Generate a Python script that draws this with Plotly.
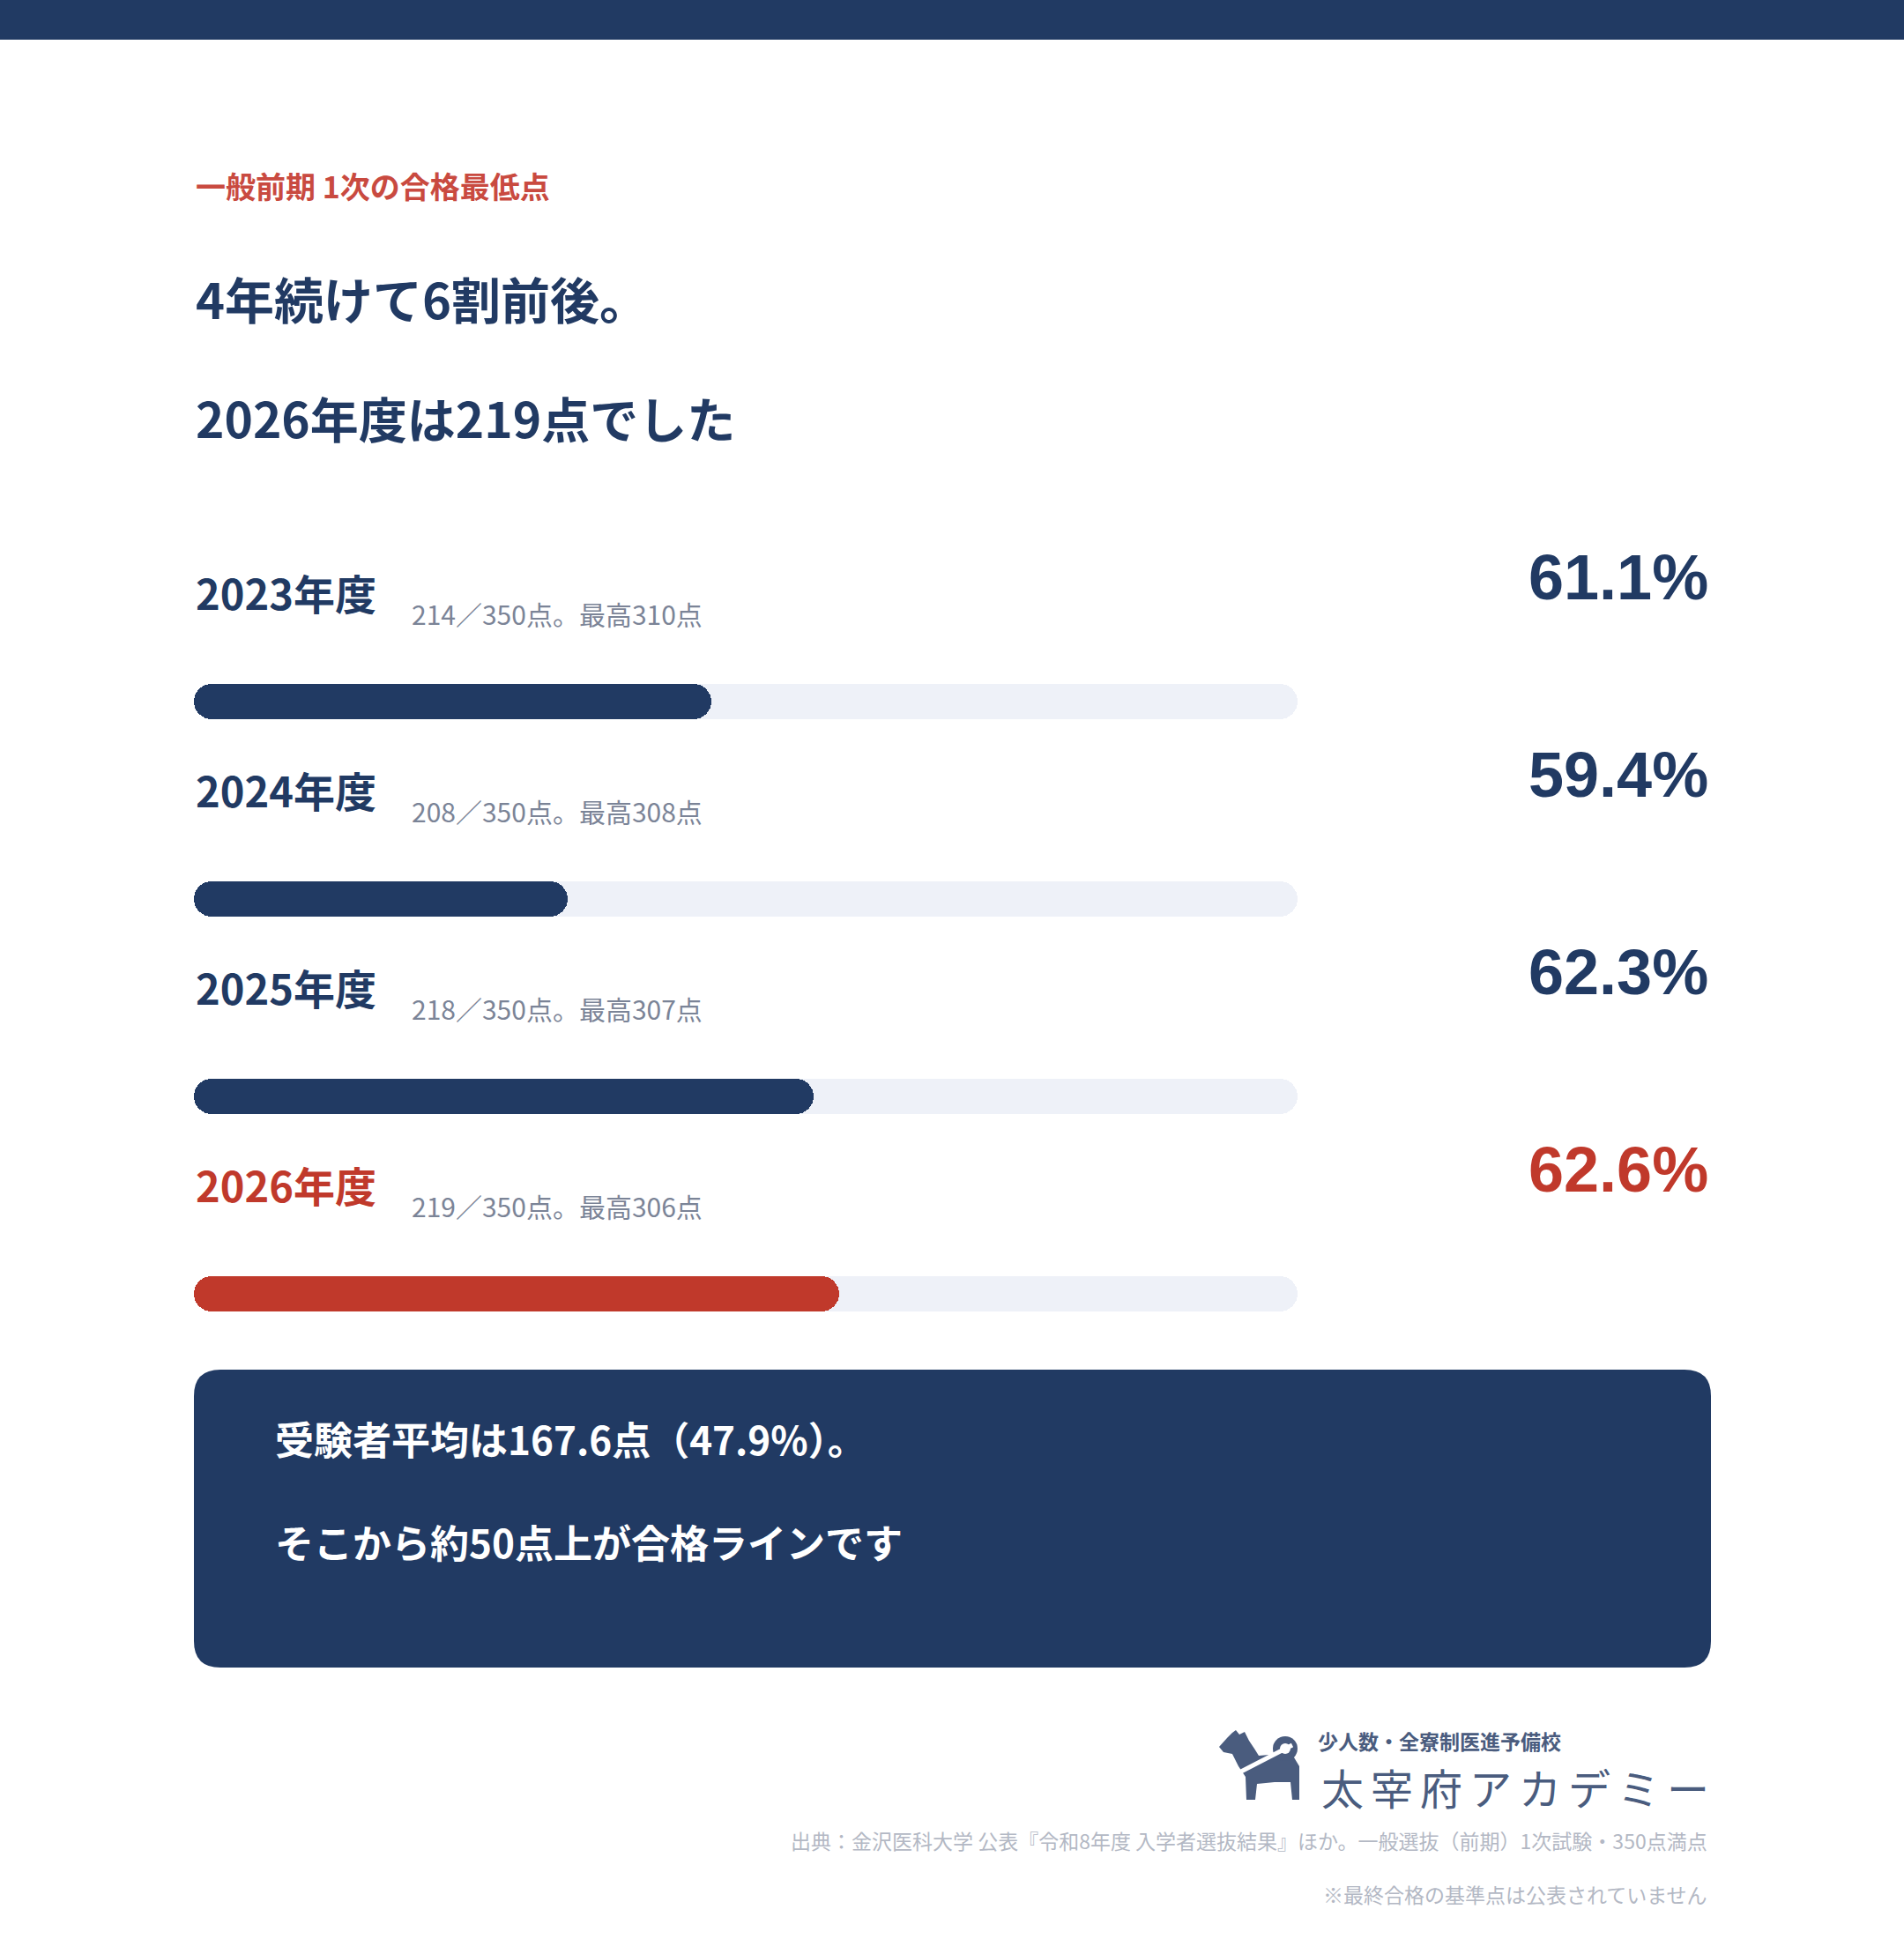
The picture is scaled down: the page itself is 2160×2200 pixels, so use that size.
import plotly.graph_objects as go

W, H = 2160, 2200

years = ["2023年度", "2024年度", "2025年度", "2026年度"]
pass_pct = [61.1, 59.4, 62.3, 62.6]
pass_score = [214, 208, 218, 219]
top_score = [310, 308, 307, 306]
full_score = 350

kicker = "一般前期 1次の合格最低点"
headline = ["4年続けて6割前後。", "2026年度は219点でした"]
box_lines = ["受験者平均は167.6点（47.9%）。", "そこから約50点上が合格ラインです"]
source = "出典：金沢医科大学 公表『令和8年度 入学者選抜結果』ほか。一般選抜（前期）1次試験・350点満点"
note = "※最終合格の基準点は公表されていません"
logo_sub = "少人数・全寮制医進予備校"
logo_main = "太宰府アカデミー"

NAVY = "#213a63"
RED = "#c0392b"
TRACK = "#eef1f8"
GRAY = "#7b8497"
LIGHT = "#b3b8c4"
LOGO = "#4a5c7e"
FONT = "Noto Sans CJK JP"
NUM_FONT = "Liberation Sans, Arial, Noto Sans CJK JP"

x_min, x_max = 55, 68  # bar scale in %


def px(x, y):
    return f"{x / W:.5f},{1 - y / H:.5f}"


def poly(pts):
    return "M" + " L".join(px(x, y) for x, y in pts) + " Z"


def rounded_rect(x0, y0, x1, y1, r):
    return (f"M{px(x0 + r, y0)} L{px(x1 - r, y0)} Q{px(x1, y0)} {px(x1, y0 + r)} "
            f"L{px(x1, y1 - r)} Q{px(x1, y1)} {px(x1 - r, y1)} "
            f"L{px(x0 + r, y1)} Q{px(x0, y1)} {px(x0, y1 - r)} "
            f"L{px(x0, y0 + r)} Q{px(x0, y0)} {px(x0 + r, y0)} Z")


colors = [NAVY] * (len(years) - 1) + [RED]

fig = go.Figure()
fig.add_trace(go.Bar(
    y=years, x=[x_max - x_min] * len(years), base=x_min, orientation="h",
    marker=dict(color=TRACK, cornerradius=20, line_width=0),
    width=0.178, hoverinfo="skip", showlegend=False))
fig.add_trace(go.Bar(
    y=years, x=[p - x_min for p in pass_pct], base=x_min, orientation="h",
    marker=dict(color=colors, cornerradius=20, line_width=0),
    width=0.178, hoverinfo="skip", showlegend=False))

ann = []
# header texts
ann.append(dict(x=220 / W, y=1 - 210 / H, text=f"<b>{kicker}</b>", xanchor="left",
                font=dict(size=34, color="#c94a40")))
ann.append(dict(x=220 / W, y=1 - 337 / H, text=f"<b>{headline[0]}</b>", xanchor="left",
                font=dict(size=56, color=NAVY)))
ann.append(dict(x=220 / W, y=1 - 473 / H, text=f"<b>{headline[1]}</b>", xanchor="left",
                font=dict(size=55, color=NAVY)))

# per-row labels
for i, yr in enumerate(years):
    c = colors[i]
    ann.append(dict(x=220 / W, y=yr, yref="y", yshift=125, text=f"<b>{yr}</b>",
                    xanchor="left", font=dict(size=47, color=c)))
    ann.append(dict(x=465 / W, y=yr, yref="y", yshift=100,
                    text=f"{pass_score[i]}／{full_score}点。最高{top_score[i]}点",
                    xanchor="left", font=dict(size=30, color=GRAY)))
    ann.append(dict(x=1940 / W, y=yr, yref="y", yshift=141, text=f"<b>{pass_pct[i]:.1f}%</b>",
                    xanchor="right", font=dict(size=72, color=c, family=NUM_FONT)))

# box text
ann.append(dict(x=310 / W, y=1 - 1632 / H, text=f"<b>{box_lines[0]}</b>", xanchor="left",
                font=dict(size=44, color="white")))
ann.append(dict(x=310 / W, y=1 - 1749 / H, text=f"<b>{box_lines[1]}</b>", xanchor="left",
                font=dict(size=44, color="white")))

# logo and footer
ann.append(dict(x=1493 / W, y=1 - 1975 / H, text=f"<b>{logo_sub}</b>", xanchor="left",
                font=dict(size=23, color=LOGO)))
ann.append(dict(x=1941 / W, y=1 - 2027 / H, text="\u2006".join(logo_main), xanchor="right",
                font=dict(size=48, color=LOGO)))
ann.append(dict(x=1939 / W, y=1 - 2088 / H, text=source, xanchor="right",
                font=dict(size=23, color=LIGHT)))
ann.append(dict(x=1939 / W, y=1 - 2149 / H, text=note, xanchor="right",
                font=dict(size=23, color=LIGHT)))

for a in ann:
    a.setdefault("xref", "paper")
    a.setdefault("yref", "paper")
    a["showarrow"] = False
    a["yanchor"] = "middle"
    a["font"].setdefault("family", FONT)

# rough dog mark for the logo
dog = poly([(1383, 1982), (1392, 1972), (1398, 1966), (1402, 1963), (1406, 1968), (1412, 1965),
            (1417, 1975), (1423, 1984), (1428, 1992), (1452, 1990), (1468, 1994), (1474, 2004),
            (1474, 2042), (1466, 2042), (1464, 2022), (1446, 2022), (1426, 2024), (1424, 2042),
            (1414, 2042), (1413, 2016), (1405, 2004), (1398, 1990), (1388, 1988)])

shapes = [
    dict(type="rect", xref="paper", yref="paper", x0=0, x1=1, y0=1 - 45 / H, y1=1,
         fillcolor=NAVY, line_width=0, layer="below"),
    dict(type="path", xref="paper", yref="paper", path=rounded_rect(220, 1554, 1941, 1892, 30),
         fillcolor=NAVY, line_width=0, layer="below"),
    dict(type="path", xref="paper", yref="paper", path=dog, fillcolor=LOGO, line_width=0),
    dict(type="circle", xref="paper", yref="paper",
         x0=1444 / W, x1=1472 / W, y0=1 - 1998 / H, y1=1 - 1970 / H,
         fillcolor=LOGO, line_width=0),
    dict(type="circle", xref="paper", yref="paper",
         x0=1452 / W, x1=1464 / W, y0=1 - 1990 / H, y1=1 - 1978 / H,
         fillcolor="white", line_width=0),
    dict(type="line", xref="paper", yref="paper", x0=1404 / W, y0=1 - 2012 / H,
         x1=1466 / W, y1=1 - 1980 / H, line=dict(color="white", width=5)),
]

fig.update_layout(
    width=W, height=H,
    margin=dict(l=0, r=0, t=0, b=0),
    paper_bgcolor="white", plot_bgcolor="white",
    barmode="overlay", bargap=0,
    font=dict(family=FONT),
    xaxis=dict(domain=[220 / W, 1472 / W], range=[x_min, x_max], visible=False, fixedrange=True),
    yaxis=dict(domain=[1 - 1580 / H, 1 - 684 / H], type="category", categoryarray=years,
               range=[len(years) - 0.5, -0.5], visible=False, fixedrange=True),
    annotations=ann, shapes=shapes,
)

fig.write_html("out.html", config={"displayModeBar": False},
               post_script="document.body.style.margin='0';")
